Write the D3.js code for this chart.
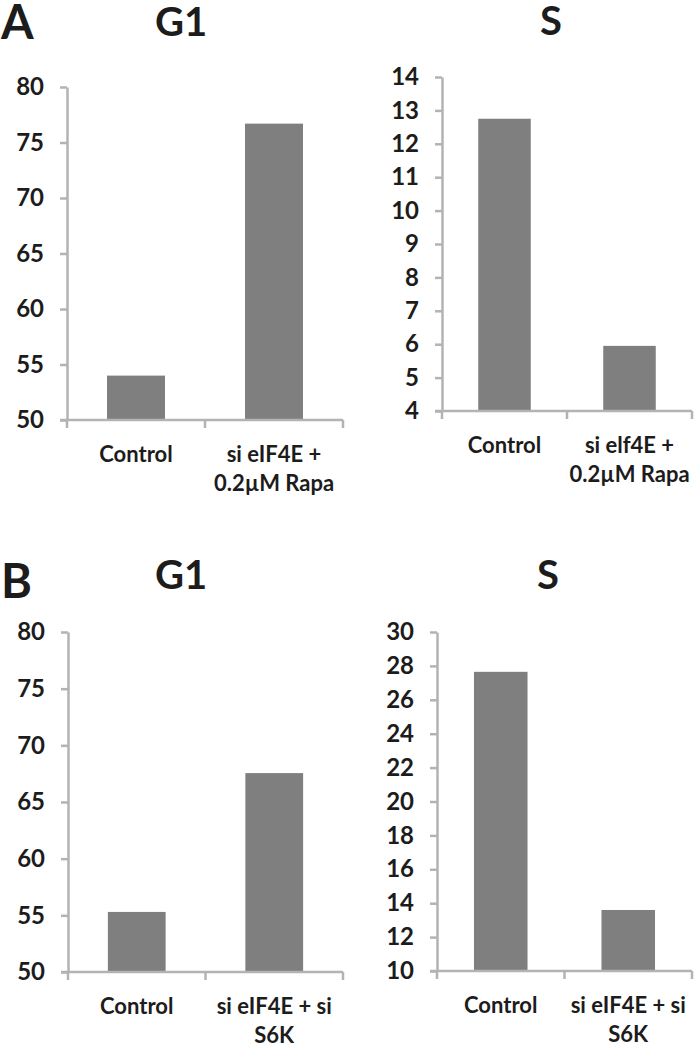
<!DOCTYPE html>
<html>
<head>
<meta charset="utf-8">
<script src="https://cdn.jsdelivr.net/npm/d3@7"></script>
<style>
  body { margin: 0; background: #fff; }
  svg text { font-family: Lato, "Open Sans", sans-serif; font-weight: bold; fill: #1c1c1c; }
</style>
</head>
<body>
<svg id="chart" width="698" height="1050"></svg>
<script>
// values (percent of cells in each phase)
var categories = ["Control", "Treated"];

var labelsAG1 = [["Control"], ["si eIF4E +", "0.2µM Rapa"]];
var labelsAS  = [["Control"], ["si elf4E +", "0.2µM Rapa"]];
var labelsB   = [["Control"], ["si eIF4E + si", "S6K"]];

var valuesAG1 = [54.0, 76.7];
var valuesAS  = [12.75, 5.95];
var valuesBG1 = [55.3, 67.55];
var valuesBS  = [27.65, 13.6];

var ticksG1 = [50, 55, 60, 65, 70, 75, 80];
var ticksAS = [4, 5, 6, 7, 8, 9, 10, 11, 12, 13, 14];
var ticksBS = [10, 12, 14, 16, 18, 20, 22, 24, 26, 28, 30];

var svg = d3.select("#chart");

var barColor = "#7f7f7f",
    axisColor = "#b3b3b3";

// layout of the four little charts
var panels = [
  { title: "G1", values: valuesAG1, ticks: ticksG1, labels: labelsAG1,
    left: 67, right: 343, top: 87, bottom: 420, titleX: 181, titleY: 36 },
  { title: "S", values: valuesAS, ticks: ticksAS, labels: labelsAS,
    left: 442, right: 692, top: 77, bottom: 411, titleX: 551, titleY: 35 },
  { title: "G1", values: valuesBG1, ticks: ticksG1, labels: labelsB,
    left: 68, right: 343, top: 632, bottom: 972, titleX: 181, titleY: 589 },
  { title: "S", values: valuesBS, ticks: ticksBS, labels: labelsB,
    left: 437, right: 692, top: 632, bottom: 971, titleX: 548, titleY: 589 }
];

svg.append("text").attr("x", 1).attr("y", 39)
  .style("font-size", "47px").text("A");
svg.append("text").attr("x", 1).attr("y", 598)
  .style("font-size", "47px").text("B");

panels.forEach(function(p) {
  var g = svg.append("g");

  var x = d3.scaleBand()
    .domain(categories)
    .range([p.left, p.right])
    .padding(0);

  var y = d3.scaleLinear()
    .domain(d3.extent(p.ticks))
    .range([p.bottom, p.top]);

  var barW = x.bandwidth() * 0.42;

  g.selectAll("rect.bar")
    .data(p.values)
    .enter().append("rect")
    .attr("class", "bar")
    .attr("x", function(d, i) { return x(categories[i]) + x.bandwidth() / 2 - barW / 2; })
    .attr("y", function(d) { return y(d); })
    .attr("width", barW)
    .attr("height", function(d) { return y(y.domain()[0]) - y(d); })
    .attr("fill", barColor);

  // y axis
  var yAxis = g.append("g")
    .attr("transform", "translate(" + p.left + ",0)")
    .call(d3.axisLeft(y).tickValues(p.ticks).tickSize(7).tickPadding(16).tickSizeOuter(0));
  yAxis.select(".domain").attr("stroke", axisColor).attr("stroke-width", 2.5);
  yAxis.selectAll(".tick line").attr("stroke", axisColor).attr("stroke-width", 2.5);
  yAxis.selectAll(".tick text")
    .attr("fill", "#1c1c1c")
    .style("font-family", "Lato, sans-serif")
    .style("font-weight", "bold")
    .style("font-size", "24px");

  // x axis line with ticks between categories
  g.append("line")
    .attr("x1", p.left - 7).attr("x2", p.right)
    .attr("y1", p.bottom).attr("y2", p.bottom)
    .attr("stroke", axisColor).attr("stroke-width", 2.5);

  var bounds = categories.map(function(c) { return x(c); }).concat([p.right]);
  g.selectAll("line.xtick")
    .data(bounds)
    .enter().append("line")
    .attr("class", "xtick")
    .attr("x1", function(d) { return d; }).attr("x2", function(d) { return d; })
    .attr("y1", p.bottom).attr("y2", p.bottom + 8)
    .attr("stroke", axisColor).attr("stroke-width", 2.5);

  // category labels
  p.labels.forEach(function(lines, i) {
    var t = g.append("text")
      .attr("text-anchor", "middle")
      .style("font-size", "22px");
    lines.forEach(function(line, j) {
      t.append("tspan")
        .attr("x", x(categories[i]) + x.bandwidth() / 2)
        .attr("y", p.bottom + 42 + j * 29)
        .text(line);
    });
  });

  g.append("text")
    .attr("x", p.titleX).attr("y", p.titleY)
    .attr("text-anchor", "middle")
    .style("font-size", "40px")
    .text(p.title);
});
</script>
</body>
</html>
